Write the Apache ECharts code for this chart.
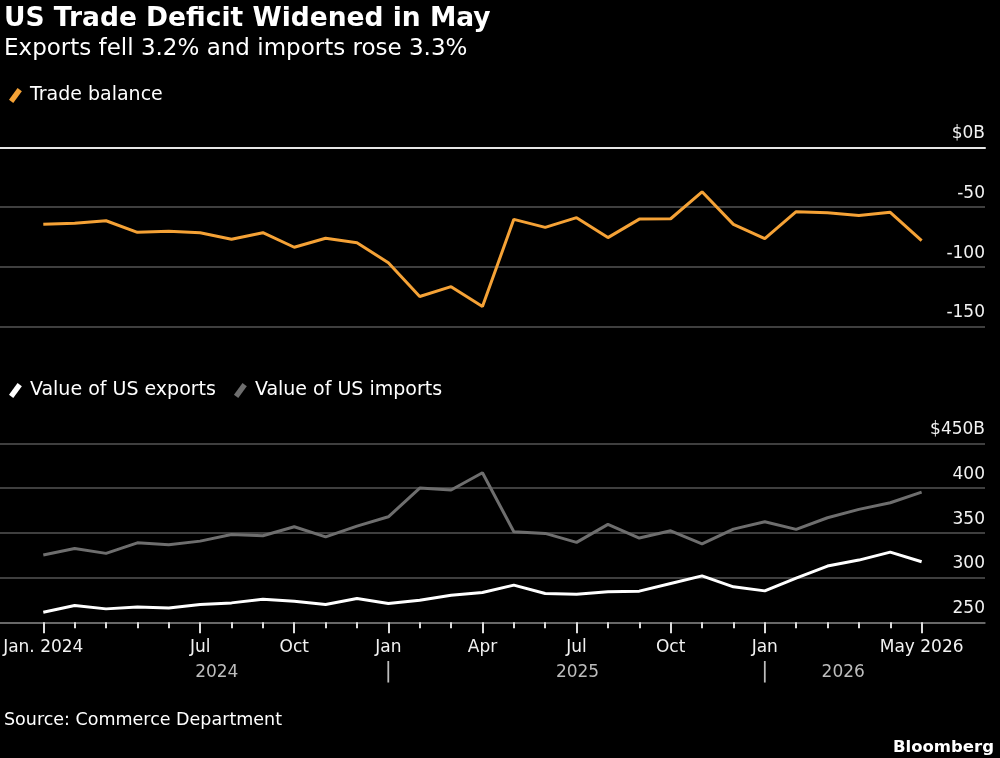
<!DOCTYPE html>
<html>
<head>
<meta charset="utf-8">
<script src="https://cdn.jsdelivr.net/npm/echarts@6/dist/echarts.min.js"></script>
<style>
  html, body { margin: 0; padding: 0; background: #000; }
  #chart { width: 1000px; height: 758px; }
</style>
</head>
<body>
<div id="chart"></div>
<script>
// 29 monthly points, Jan 2024 .. May 2026, plotted at index 0..28
const months = [
  'Jan 2024', 'Feb 2024', 'Mar 2024', 'Apr 2024', 'May 2024', 'Jun 2024',
  'Jul 2024', 'Aug 2024', 'Sep 2024', 'Oct 2024', 'Nov 2024', 'Dec 2024',
  'Jan 2025', 'Feb 2025', 'Mar 2025', 'Apr 2025', 'May 2025', 'Jun 2025',
  'Jul 2025', 'Aug 2025', 'Sep 2025', 'Oct 2025', 'Nov 2025', 'Dec 2025',
  'Jan 2026', 'Feb 2026', 'Mar 2026', 'Apr 2026', 'May 2026'
]

const tradeBalance = [
  -64.4, -63.5, -61.4, -71.1, -70.2, -71.4, -76.9, -71.4, -83.6, -76.1,
  -79.8, -96.5, -124.9, -116.6, -133.3, -60.2, -66.9, -58.8, -75.5, -60.0,
  -59.7, -37.1, -64.4, -76.4, -53.8, -54.6, -56.9, -54.3, -78.1
]

const exportsValue = [
  261.3, 268.8, 265.0, 267.2, 266.1, 269.9, 271.7, 275.8, 273.6, 269.9,
  276.6, 271.0, 274.7, 280.3, 283.3, 291.5, 282.2, 281.4, 284.0, 284.8,
  293.4, 301.9, 289.6, 285.1, 299.3, 312.8, 319.5, 328.4, 317.6
]

const importsValue = [
  325.1, 332.5, 327.0, 338.8, 336.6, 340.7, 348.2, 346.7, 356.7, 345.5,
  357.5, 367.9, 400.0, 397.8, 417.1, 351.1, 349.3, 339.3, 359.4, 344.1,
  352.2, 337.7, 354.1, 362.3, 353.8, 366.8, 376.2, 383.6, 395.5
]

// tick labels, at the tick positions used by the original
const tickLabelIdx = [0, 5, 8, 11, 14, 17, 20, 23, 28]
const tickLabelText = ['Jan. 2024', 'Jul', 'Oct', 'Jan', 'Apr', 'Jul', 'Oct', 'Jan', 'May 2026']

const yearPos = [5.53, 17.03, 25.5]
const yearText = ['2024', '2025', '2026']
const yearSepPos = [11, 23]

const X_MIN = -1.38
const X_MAX = 30.02
const FONT = '"DejaVu Sans", sans-serif'

const chart = echarts.init(document.getElementById('chart'), null, { renderer: 'canvas' })

const toPairs = arr => arr.map((v, i) => [i, v])
const allIdx = months.map((m, i) => i)

const bottomLabel = v => {
  const k = tickLabelIdx.indexOf(v)
  return k >= 0 ? tickLabelText[k] : ''
}
const yearLabel = v => {
  const k = yearPos.indexOf(v)
  if (k >= 0) return '{y|' + yearText[k] + '}'
  if (yearSepPos.indexOf(v) >= 0) return '{s||}'
  return ''
}

const slash = 'path://M0,11 L8,0 L12,3 L4,14 Z'

chart.setOption({
  backgroundColor: '#000',
  animation: false,
  textStyle: { fontFamily: FONT },
  title: [
    {
      text: 'US Trade Deficit Widened in May',
      left: -1, top: 1,
      textStyle: { color: '#fff', fontSize: 26.5, fontWeight: 'bold', fontFamily: FONT }
    },
    {
      text: 'Exports fell 3.2% and imports rose 3.3%',
      left: -1, top: 33,
      textStyle: { color: '#fff', fontSize: 23, fontWeight: 'normal', fontFamily: FONT }
    },
    {
      text: 'Source: Commerce Department',
      left: -1, top: 706,
      textStyle: { color: '#fff', fontSize: 17.5, fontWeight: 'normal', fontFamily: FONT }
    },
    {
      text: 'Bloomberg',
      right: 1, top: 734,
      textStyle: { color: '#fff', fontSize: 16.5, fontWeight: 'bold', fontFamily: FONT }
    }
  ],
  legend: [
    {
      data: ['Trade balance'],
      left: 4, top: 81,
      icon: slash, itemWidth: 13, itemHeight: 15, itemGap: 20,
      textStyle: { color: '#fff', fontSize: 19, padding: [0, 0, 0, 3], fontFamily: FONT }
    },
    {
      data: ['Value of US exports', 'Value of US imports'],
      left: 4, top: 376,
      icon: slash, itemWidth: 13, itemHeight: 15, itemGap: 18,
      textStyle: { color: '#fff', fontSize: 19, padding: [0, 0, 0, 3], fontFamily: FONT }
    }
  ],
  grid: [
    { left: 0, right: 15, top: 147.5, height: 179 },
    { left: 0, right: 15, top: 443.3, height: 179 }
  ],
  xAxis: [
    {
      gridIndex: 0, type: 'value', min: X_MIN, max: X_MAX, position: 'top',
      axisLine: { show: true, lineStyle: { color: '#e6e6e6', width: 2 } },
      axisTick: { show: false }, axisLabel: { show: false }, splitLine: { show: false }
    },
    {
      gridIndex: 1, type: 'value', min: X_MIN, max: X_MAX, position: 'bottom',
      axisLine: { show: true, lineStyle: { color: '#777', width: 1.5 } },
      axisTick: { show: true, customValues: allIdx, length: 6, lineStyle: { color: '#ddd', width: 2 } },
      axisLabel: {
        customValues: tickLabelIdx, formatter: bottomLabel,
        color: '#f2f2f2', fontSize: 17, margin: 17
      },
      splitLine: { show: false }
    },
    {
      gridIndex: 1, type: 'value', min: X_MIN, max: X_MAX, position: 'bottom',
      axisLine: { show: false },
      axisTick: { show: true, customValues: tickLabelIdx, length: 11, lineStyle: { color: '#ddd', width: 2 } },
      axisLabel: {
        customValues: yearPos.concat(yearSepPos), formatter: yearLabel, margin: 39,
        rich: {
          y: { color: '#bdbdbd', fontSize: 17, fontFamily: FONT, padding: [3, 0, 0, 0] },
          s: { color: '#bdbdbd', fontSize: 21, fontFamily: FONT }
        }
      },
      splitLine: { show: false }
    }
  ],
  yAxis: [
    {
      gridIndex: 0, type: 'value', position: 'right', min: -150, max: 0, interval: 50,
      axisLine: { show: false }, axisTick: { show: false },
      axisLabel: {
        inside: true, margin: 0, color: '#f2f2f2', fontSize: 17,
        verticalAlign: 'bottom', padding: [0, 0, 5, 0],
        formatter: v => (v === 0 ? '$0B' : String(v))
      },
      splitLine: { show: true, lineStyle: { color: '#555', width: 1.5 } }
    },
    {
      gridIndex: 1, type: 'value', position: 'right', min: 250, max: 450, interval: 50,
      axisLine: { show: false }, axisTick: { show: false },
      axisLabel: {
        inside: true, margin: 0, color: '#f2f2f2', fontSize: 17,
        verticalAlign: 'bottom', padding: [0, 0, 5, 0],
        formatter: v => (v === 450 ? '$450B' : String(v))
      },
      splitLine: { show: true, lineStyle: { color: '#555', width: 1.5 } }
    }
  ],
  series: [
    {
      name: 'Trade balance', type: 'line', xAxisIndex: 0, yAxisIndex: 0,
      data: toPairs(tradeBalance), symbol: 'none', color: '#f5a236',
      lineStyle: { width: 3, color: '#f5a236' }
    },
    {
      name: 'Value of US imports', type: 'line', xAxisIndex: 1, yAxisIndex: 1,
      data: toPairs(importsValue), symbol: 'none', color: '#6e6e6e',
      lineStyle: { width: 3, color: '#6e6e6e' }
    },
    {
      name: 'Value of US exports', type: 'line', xAxisIndex: 1, yAxisIndex: 1,
      data: toPairs(exportsValue), symbol: 'none', color: '#ffffff',
      lineStyle: { width: 3, color: '#ffffff' }
    }
  ]
})
</script>
</body>
</html>
